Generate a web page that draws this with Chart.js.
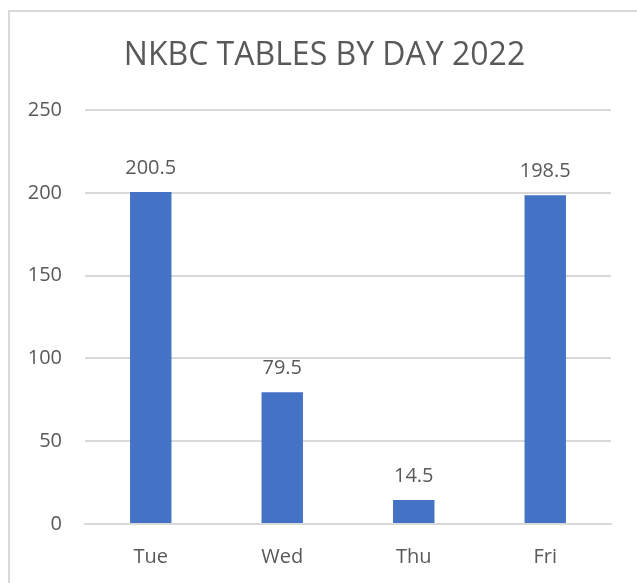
<!DOCTYPE html>
<html>
<head>
<meta charset="utf-8">
<script src="https://cdn.jsdelivr.net/npm/chart.js@4"></script>
<style>
  html, body { margin: 0; padding: 0; background: #fff; overflow: hidden; }
  #frame {
    position: absolute; left: 8px; top: 10px; width: 700px; height: 700px;
    border-left: 2px solid #d9d9d9; border-top: 2px solid #d9d9d9;
  }
  #wrap { position: absolute; left: 0; top: 0; width: 637px; height: 583px; }
</style>
</head>
<body>
<div id="frame"></div>
<div id="wrap"><canvas id="chart"></canvas></div>
<script>
// NKBC tables by day, 2022
const TITLE = "NKBC TABLES BY DAY 2022";
const DAYS = ["Tue", "Wed", "Thu", "Fri"];
const TABLES = [200.5, 79.5, 14.5, 198.5];
const Y_MAX = 250;
const Y_STEP = 50;

const TEXT = "#595959";
const GRID = "#d9d9d9";
const BAR = "#4472c4";
const FONT = "'Open Sans', sans-serif";

// value above each bar + the title (centred on the whole frame, not the plot)
const extras = {
  id: "extras",
  afterDatasetsDraw(chart) {
    const ctx = chart.ctx;
    const meta = chart.getDatasetMeta(0);
    ctx.save();
    ctx.fillStyle = TEXT;
    ctx.textAlign = "center";
    ctx.textBaseline = "middle";
    ctx.font = "20px " + FONT;
    meta.data.forEach((bar, i) => {
      ctx.fillText(String(TABLES[i]), bar.x, bar.y - 24);
    });
    ctx.font = "32px " + FONT;
    ctx.fillText(TITLE, 324.5, 56);
    ctx.restore();
  }
};

new Chart(document.getElementById("chart"), {
  type: "bar",
  data: {
    labels: DAYS,
    datasets: [{
      data: TABLES,
      backgroundColor: BAR,
      barPercentage: 0.45,
      categoryPercentage: 0.7
    }]
  },
  options: {
    responsive: true,
    maintainAspectRatio: false,
    animation: false,
    layout: { padding: { left: 0, right: 26, top: 110, bottom: 0 } },
    plugins: {
      legend: { display: false },
      tooltip: { enabled: false }
    },
    scales: {
      x: {
        grid: { display: false, drawTicks: false },
        border: { color: GRID, width: 2 },
        ticks: { color: TEXT, font: { family: FONT, size: 20 }, padding: 21 },
        afterFit(s) { s.height = 59; }
      },
      y: {
        min: 0,
        max: Y_MAX,
        grid: { color: GRID, lineWidth: 2, drawTicks: false },
        border: { display: false },
        ticks: { stepSize: Y_STEP, color: TEXT, font: { family: FONT, size: 20 }, padding: 23 },
        afterFit(s) { s.width = 85; }
      }
    }
  },
  plugins: [extras]
});
</script>
</body>
</html>
